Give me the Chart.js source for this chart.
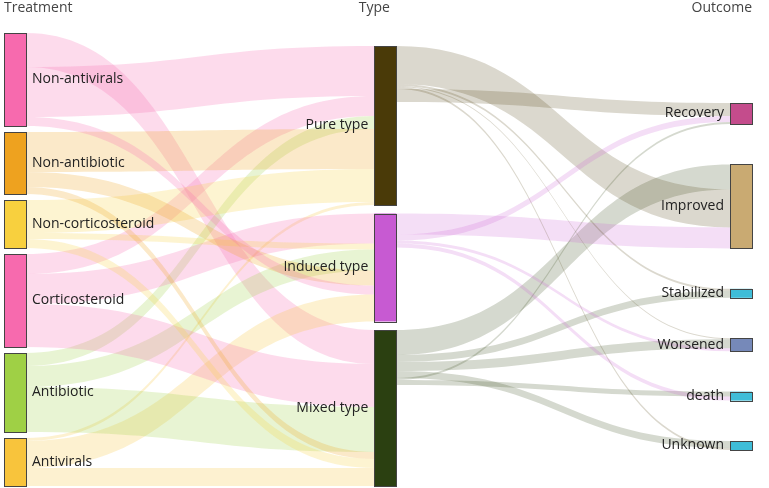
<!DOCTYPE html>
<html><head><meta charset="utf-8">
<script src="https://cdn.jsdelivr.net/npm/chart.js@4"></script>
<style>html,body{margin:0;padding:0;background:#fff;overflow:hidden}</style>
</head><body><canvas id="c" width="769" height="488"></canvas>
<script>
// ---------- DATA ----------
const columnTitles = ['Treatment', 'Type', 'Outcome'];
const treatments = ['Non-antivirals', 'Non-antibiotic', 'Non-corticosteroid', 'Corticosteroid', 'Antibiotic', 'Antivirals'];
const types = ['Pure type', 'Induced type', 'Mixed type'];
const outcomes = ['Recovery', 'Improved', 'Stabilized', 'Worsened', 'death', 'Unknown'];

// Treatment -> Type flows (listed in stacking order)
const treatLinkSource = ['Non-antivirals','Non-antivirals','Corticosteroid','Antibiotic','Non-antibiotic','Non-corticosteroid','Antivirals',
  'Corticosteroid','Non-corticosteroid','Antibiotic','Non-antibiotic','Non-antivirals','Antivirals',
  'Corticosteroid','Antibiotic','Non-antibiotic','Non-corticosteroid','Antivirals'];
const treatLinkTarget = ['Mixed type','Pure type','Pure type','Pure type','Pure type','Pure type','Pure type',
  'Induced type','Induced type','Induced type','Induced type','Induced type','Induced type',
  'Mixed type','Mixed type','Mixed type','Mixed type','Mixed type'];
const treatLinkValue = [34, 50, 20, 13, 40, 33, 3, 30, 6, 21, 15, 9, 27, 43, 45, 7, 9, 18];

// Type -> Outcome flows (listed in stacking order)
const outLinkSource = ['Mixed type','Pure type','Induced type','Pure type','Mixed type','Pure type','Mixed type','Mixed type',
  'Pure type','Pure type','Induced type','Mixed type','Induced type','Mixed type','Induced type'];
const outLinkTarget = ['Improved','Improved','Improved','Stabilized','Stabilized','Worsened','Worsened','Unknown',
  'Unknown','Recovery','Recovery','Recovery','Worsened','death','death'];
const outLinkValue = [25, 38, 21, 2, 7, 1, 9, 7, 2, 13, 6, 2, 3, 5, 4];

// ---------- STYLE / LAYOUT CONFIG ----------
const nodeColors = {
  'Non-antivirals': '#f76aae', 'Non-antibiotic': '#eea21f', 'Non-corticosteroid': '#f8d03e',
  'Corticosteroid': '#f76aae', 'Antibiotic': '#9fd045', 'Antivirals': '#f8c43c',
  'Pure type': '#4a3a08', 'Induced type': '#c75ad2', 'Mixed type': '#2b4011',
  'Recovery': '#c44c8c', 'Improved': '#c9aa72', 'Stabilized': '#3fbdd8', 'Worsened': '#7689b9',
  'death': '#3fbdd8', 'Unknown': '#3fbdd8'
};
const linkAlpha = { 0: 0.24, 1: 0.2 };
const colX = [0, 1.02, 2];          // column positions on x scale
const colTop = [0, 13, 70];         // column extent on y scale (value units)
const colBottom = [453, 453, 417];
const nodeWidthPx = 22;
const FONT = '"Open Sans", "Noto Sans", sans-serif';

function hexA(hex, a) {
  const n = parseInt(hex.slice(1), 16);
  return `rgba(${(n >> 16) & 255},${(n >> 8) & 255},${n & 255},${a})`;
}

// Build graph
const columns = [treatments, types, outcomes];
const nodes = {};
columns.forEach((names, ci) => names.forEach(n => { nodes[n] = { name: n, col: ci, inV: 0, outV: 0, inOff: 0, outOff: 0 }; }));
const links = [];
treatLinkSource.forEach((s, i) => links.push({ s, t: treatLinkTarget[i], v: treatLinkValue[i], stage: 0 }));
outLinkSource.forEach((s, i) => links.push({ s, t: outLinkTarget[i], v: outLinkValue[i], stage: 1 }));
links.forEach(l => { nodes[l.s].outV += l.v; nodes[l.t].inV += l.v; });
columns.forEach((names, ci) => {
  const sizes = names.map(n => Math.max(nodes[n].inV, nodes[n].outV));
  const total = sizes.reduce((a, b) => a + b, 0);
  const gap = (colBottom[ci] - colTop[ci] - total) / (names.length - 1);
  let y = colTop[ci];
  names.forEach((n, i) => { nodes[n].y0 = y; nodes[n].y1 = y + sizes[i]; y += sizes[i] + gap; });
});
links.forEach(l => {
  const s = nodes[l.s], t = nodes[l.t];
  l.sy0 = s.y0 + s.outOff; s.outOff += l.v; l.sy1 = s.y0 + s.outOff;
  l.ty0 = t.y0 + t.inOff; t.inOff += l.v; l.ty1 = t.y0 + t.inOff;
});

const sankeyPlugin = {
  id: 'sankey',
  beforeDatasetsDraw(chart) {
    const { ctx, scales: { x, y } } = chart;
    ctx.save();
    // links
    links.forEach(l => {
      const s = nodes[l.s], t = nodes[l.t];
      const x0 = x.getPixelForValue(colX[s.col]) + nodeWidthPx;
      const x1 = x.getPixelForValue(colX[t.col]);
      const xm = (x0 + x1) / 2;
      const a0 = y.getPixelForValue(l.sy0), a1 = y.getPixelForValue(l.sy1);
      const b0 = y.getPixelForValue(l.ty0), b1 = y.getPixelForValue(l.ty1);
      ctx.beginPath();
      ctx.moveTo(x0, a0);
      ctx.bezierCurveTo(xm, a0, xm, b0, x1, b0);
      ctx.lineTo(x1, b1);
      ctx.bezierCurveTo(xm, b1, xm, a1, x0, a1);
      ctx.closePath();
      ctx.fillStyle = hexA(nodeColors[l.s], linkAlpha[l.stage]);
      ctx.fill();
    });
    // nodes
    Object.values(nodes).forEach(n => {
      const px = x.getPixelForValue(colX[n.col]);
      const py0 = y.getPixelForValue(n.y0), py1 = y.getPixelForValue(n.y1);
      ctx.fillStyle = nodeColors[n.name];
      ctx.fillRect(px, py0, nodeWidthPx, py1 - py0);
      ctx.strokeStyle = '#444';
      ctx.lineWidth = 1;
      ctx.strokeRect(Math.round(px) + 0.5, Math.round(py0) + 0.5, nodeWidthPx, Math.round(py1 - py0));
    });
    // labels
    ctx.font = '14px ' + FONT;
    ctx.textBaseline = 'middle';
    ctx.fillStyle = '#222';
    Object.values(nodes).forEach(n => {
      const px = x.getPixelForValue(colX[n.col]);
      const cy = y.getPixelForValue((n.y0 + n.y1) / 2);
      if (n.col === 0) { ctx.textAlign = 'left'; ctx.fillText(n.name, px + nodeWidthPx + 6, cy); }
      else { ctx.textAlign = 'right'; ctx.fillText(n.name, px - 6, cy); }
    });
    // column titles
    ctx.fillStyle = '#444';
    ctx.textBaseline = 'middle';
    columnTitles.forEach((tt, ci) => {
      const px = x.getPixelForValue(colX[ci]);
      if (ci === 0) { ctx.textAlign = 'left'; ctx.fillText(tt, px, 8); }
      else if (ci === 1) { ctx.textAlign = 'center'; ctx.fillText(tt, px, 8); }
      else { ctx.textAlign = 'right'; ctx.fillText(tt, px + nodeWidthPx, 8); }
    });
    ctx.restore();
  }
};

new Chart(document.getElementById('c'), {
  type: 'scatter',
  data: { datasets: [{ data: Object.values(nodes).map(n => ({ x: colX[n.col], y: (n.y0 + n.y1) / 2 })), pointRadius: 0 }] },
  options: {
    responsive: false, animation: false,
    layout: { padding: { left: 4, right: 39, top: 33, bottom: 2 } },
    plugins: { legend: { display: false }, tooltip: { enabled: false } },
    scales: {
      x: { type: 'linear', min: 0, max: 2, display: false },
      y: { type: 'linear', min: 0, max: 453, reverse: true, display: false }
    }
  },
  plugins: [sankeyPlugin]
});
</script>
</body></html>
